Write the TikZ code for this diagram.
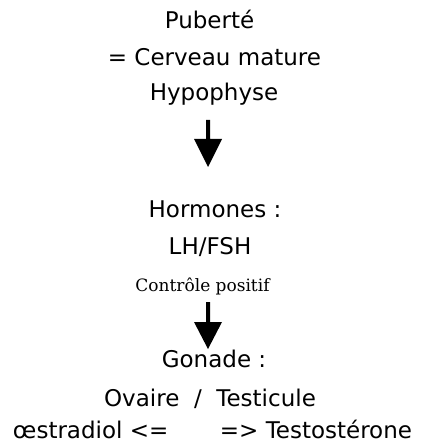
\documentclass[tikz,border=0pt]{standalone}
\usepackage{fontspec}
\setmainfont{DejaVu Sans}
\newfontfamily\labelserif{DejaVu Serif}
\begin{document}
\begin{tikzpicture}[x=1bp,y=-1bp,
  txt/.style={anchor=base,inner sep=0pt,font=\fontsize{23bp}{27bp}\selectfont},
  lbl/.style={anchor=base,inner sep=0pt,font=\labelserif\fontsize{17bp}{20bp}\selectfont},
  bigarrow/.style={fill=black}]
\useasboundingbox (0,0) rectangle (420,443);
\node[txt] (pub) at (209.5,29) {Puberté};
\node[txt] (cer) at (214.5,66) {= Cerveau mature};
\node[txt] (hyp) at (214,101) {Hypophyse};
\node[txt] (hor) at (215,218) {Hormones :};
\node[txt] (lh) at (210,254) {LH/FSH};
\node[lbl] (ctl) at (202.5,291) {Contrôle positif};
\node[txt] (gon) at (214,367) {Gonade :};
\node[txt] (ova) at (210,406) {Ovaire\ \ /\ \ Testicule};
\node[txt] (ost) at (212.5,438) {\makebox[399bp]{œstradiol <=\hfill=> Testostérone}};
% arrow 1
\coordinate (a1s) at (208,120);
\coordinate (a1e) at (208,167);
\fill[bigarrow] (a1s) ++(-2,0) -- ++(0,19) -- ++(-12,0) -- (a1e) -- ++(14,-28) -- ++(-12,0) -- ++(0,-19) -- cycle;
% arrow 2
\coordinate (a2s) at (208,302);
\coordinate (a2e) at (208,349);
\fill[bigarrow] (a2s) ++(-2,0) -- ++(0,20) -- ++(-12,0) -- (a2e) -- ++(14,-27) -- ++(-12,0) -- ++(0,-20) -- cycle;
\end{tikzpicture}
\end{document}
